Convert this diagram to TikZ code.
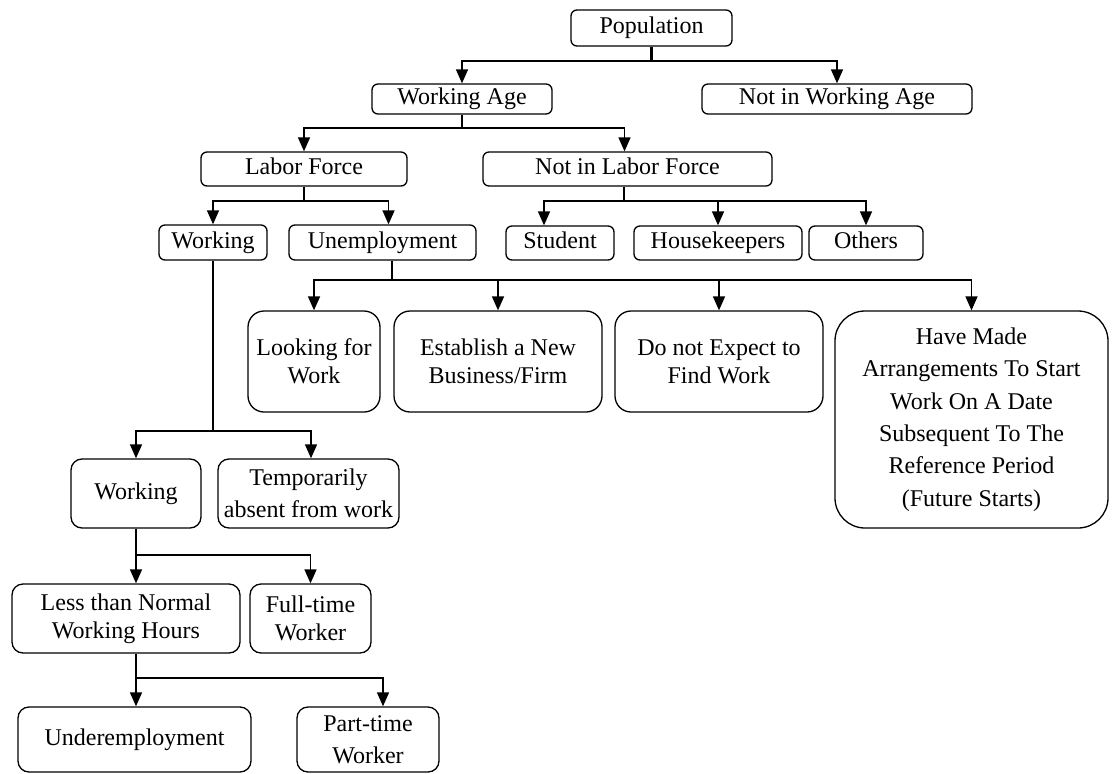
\documentclass[tikz,border=0pt]{standalone}
\usepackage{fontspec}
\setmainfont{Liberation Serif}
\usetikzlibrary{arrows.meta}

\tikzset{
	box/.style={draw, line width=1.3pt, rounded corners=6pt, inner sep=0pt, align=center,
		font=\fontsize{24}{28}\selectfont},
	single/.style={text height=16pt, text depth=5pt},
	roomy/.style={font=\fontsize{24}{32.4}\selectfont},
	link/.style={line width=1.5pt, -{Triangle[width=12pt,length=14pt]}},
	stem/.style={line width=2.5pt},
}

\begin{document}
\begin{tikzpicture}[x=1pt,y=-1pt]

	\useasboundingbox (0,0) rectangle (1112,774);

	% top levels
	\node[box, single, minimum width=161pt, minimum height=36pt] (pop) at (651.5,28) {Population};
	\node[box, single, minimum width=180pt, minimum height=30pt] (wa)  at (462,99)    {Working Age};
	\node[box, single, minimum width=270pt, minimum height=30pt] (nwa) at (837,99)    {Not in Working Age};

	\node[box, single, minimum width=206pt, minimum height=34pt] (lf)  at (304,169)   {Labor Force};
	\node[box, single, minimum width=289pt, minimum height=34pt] (nlf) at (627.5,169) {Not in Labor Force};

	\node[box, single, minimum width=108pt, minimum height=35pt] (wk)  at (213,242.5) {Working};
	\node[box, single, minimum width=187pt, minimum height=35pt] (un)  at (382.5,242.5) {Unemployment};
	\node[box, single, minimum width=108pt, minimum height=34pt] (st)  at (560,243)   {Student};
	\node[box, single, minimum width=168pt, minimum height=34pt] (hk)  at (718,243)   {Housekeepers};
	\node[box, single, minimum width=114pt, minimum height=34pt] (ot)  at (866,243)   {Others};

	% kinds of unemployment
	\node[box, rounded corners=16pt, minimum width=132pt, minimum height=101pt] (lw) at (314,361.5) {Looking for\\Work};
	\node[box, rounded corners=16pt, minimum width=208pt, minimum height=101pt] (eb) at (498,361.5) {Establish a New\\Business/Firm};
	\node[box, rounded corners=16pt, minimum width=208pt, minimum height=101pt] (de) at (719,361.5) {Do not Expect to\\Find Work};
	\node[box, roomy, rounded corners=30pt, minimum width=273pt, minimum height=217pt] (hm) at (971.5,419.5)
		{Have Made\\Arrangements To Start\\Work On A Date\\Subsequent To The\\Reference Period\\(Future Starts)};

	% working branch
	\node[box, single, rounded corners=11pt, minimum width=130pt, minimum height=69pt] (wk2) at (136,493.5) {Working};
	\node[box, roomy, rounded corners=11pt, minimum width=181pt, minimum height=69pt] (ta) at (308.5,493.5) {Temporarily\\absent from work};
	\node[box, rounded corners=11pt, minimum width=228pt, minimum height=69pt] (ln) at (126,618.5) {Less than Normal\\Working Hours};
	\node[box, rounded corners=11pt, minimum width=121pt, minimum height=69pt] (ft) at (310.5,618.5) {Full-time\\Worker};
	\node[box, single, rounded corners=11pt, minimum width=233pt, minimum height=65pt] (ue) at (134.5,739.5) {Underemployment};
	\node[box, roomy, rounded corners=11pt, minimum width=142pt, minimum height=65pt] (pt) at (368,739.5) {Part-time\\Worker};

	% connectors
	\coordinate (j1) at (651.5,61);
	\draw[stem] (pop.south) -- (j1);
	\draw[link] (j1) -| (wa.north);
	\draw[link] (j1) -| (nwa.north);

	\coordinate (j2) at (462,128);
	\draw[stem] (wa.south) -- (j2);
	\draw[link] (j2) -| (lf.north);
	\draw[link] (j2) -| ([xshift=-3pt]nlf.north);

	\coordinate (j3) at (304,201);
	\draw[line width=1.5pt] (lf.south) -- (j3);
	\draw[link] (j3) -| (wk.north);
	\draw[link] (j3) -| ([xshift=6pt]un.north);

	\coordinate (j4) at (624,201);
	\draw[line width=1.5pt] (j4 |- nlf.south) -- (j4);
	\draw[link] (j4) -| ([xshift=-16pt]st.north);
	\draw[link] (j4) -| (hk.north);
	\draw[link] (j4) -| (ot.north);

	\coordinate (j5) at (392,280);
	\draw[stem] (j5 |- un.south) -- (j5);
	\draw[link] (j5) -| (lw.north);
	\draw[link] (j5) -| (eb.north);
	\draw[link] (j5) -| (de.north);
	\draw[link] (j5) -| (hm.north);

	\coordinate (j6) at (213,431);
	\draw[line width=1.5pt] (wk.south) -- (j6);
	\draw[link] (j6) -| (wk2.north);
	\draw[link] (j6) -| ([xshift=2.5pt]ta.north);

	\coordinate (j7) at (136,555);
	\draw[line width=1.5pt] (wk2.south) -- (j7);
	\draw[link] (j7) -| ([xshift=10pt]ln.north);
	\draw[link] (j7) -| (ft.north);

	\coordinate (j8) at (136,678);
	\draw[line width=1.5pt] (j8 |- ln.south) -- (j8);
	\draw[link] (j8) -| ([xshift=1.5pt]ue.north);
	\draw[link] (j8) -| ([xshift=15pt]pt.north);

\end{tikzpicture}
\end{document}
